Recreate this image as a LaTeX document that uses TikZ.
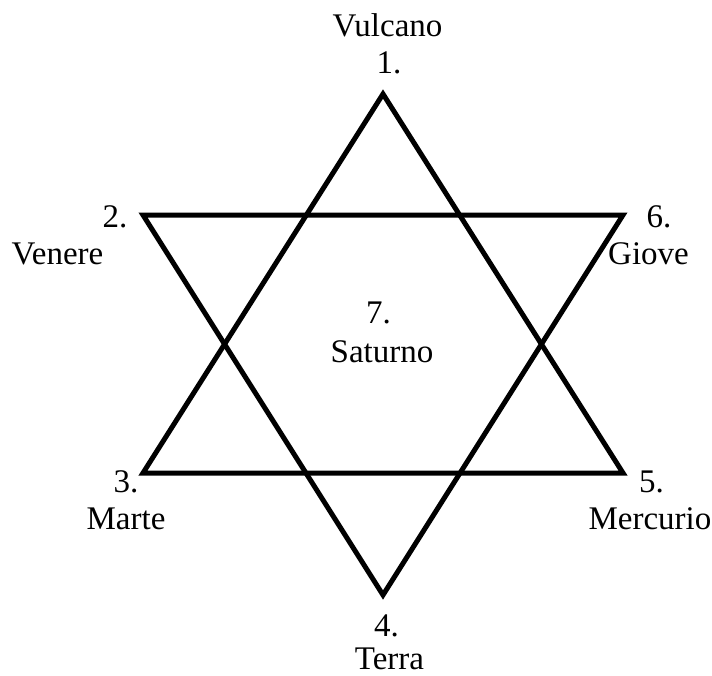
\documentclass[tikz,border=0pt]{standalone}
\usepackage{fontspec}
\setmainfont{Liberation Serif}
\begin{document}
\begin{tikzpicture}[
  font=\fontsize{33}{37}\selectfont,
  x=1pt, y=-1pt,
  tri/.style={draw=black, line width=5pt, line join=miter},
  lbl/.style={anchor=base, inner sep=0pt},
]
\useasboundingbox (0,0) rectangle (712,675);
% points of the star
\coordinate (v1) at (383,94);
\coordinate (v2) at (143,215);
\coordinate (v3) at (143,473);
\coordinate (v4) at (383,595);
\coordinate (v5) at (623,473);
\coordinate (v6) at (623,215);
\draw[tri] (v1) -- (v3) -- (v5) -- cycle;
\draw[tri] (v2) -- (v6) -- (v4) -- cycle;
% numbers and names
\foreach \n/\x/\y/\t in {n1/389/73/1., n2/115/227/2., n3/126/492/3., n4/386.5/636/4.,
    n5/651.5/492/5., n6/659/227/6., n7/378.5/323/7.} {
  \node[lbl] (\n) at (\x,\y) {\t};
}
\foreach \n/\x/\y/\t in {vulcano/387.5/36/Vulcano, venere/57.5/264/Venere,
    marte/126/529/Marte, terra/389.5/669/Terra, mercurio/650/529/Mercurio,
    giove/648.5/264/Giove, saturno/382/362/Saturno} {
  \node[lbl] (\n) at (\x,\y) {\t};
}
\end{tikzpicture}
\end{document}
